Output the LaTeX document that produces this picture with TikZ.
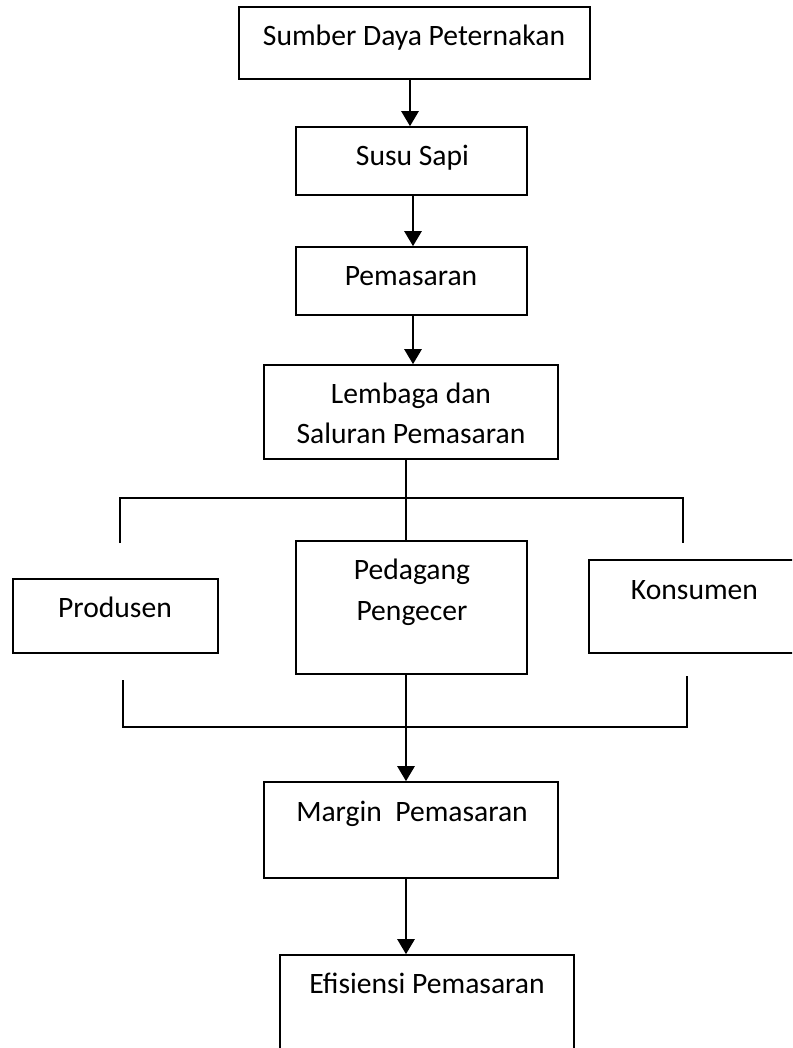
\documentclass[tikz,border=0pt]{standalone}
\usepackage{fontspec}
\setmainfont{Carlito}
\usetikzlibrary{arrows.meta}
\begin{document}
\begin{tikzpicture}[x=1pt,y=-1pt,
  box/.style={draw,line width=1.6pt,inner sep=0pt},
  lbl/.style={anchor=base,inner sep=0pt,font=\fontsize{29.6}{36}\selectfont},
  arr/.style={line width=2.6pt,-{Triangle[width=17pt,length=15pt]}},
  ln/.style={line width=2pt}]
\useasboundingbox (0,0) rectangle (792,1048);
\clip (0,0) rectangle (792,1048);
% boxes
\node[box,minimum width=351pt,minimum height=72pt] (b1) at (414.5,43) {};
\node[box,minimum width=231pt,minimum height=68pt] (b2) at (411.5,161) {};
\node[box,minimum width=231pt,minimum height=68pt] (b3) at (411.5,281) {};
\node[box,minimum width=294pt,minimum height=94pt] (b4) at (411,412) {};
\node[box,minimum width=205pt,minimum height=74pt] (prod) at (115.5,616) {};
\node[box,minimum width=231pt,minimum height=133pt] (ped) at (411.5,607.5) {};
\node[box,minimum width=240pt,minimum height=93pt] (kon) at (709,606.5) {};
\node[box,minimum width=294pt,minimum height=96pt] (mar) at (411,830) {};
\node[box,minimum width=294pt,minimum height=140pt] (efi) at (427,1025) {};
% labels
\node[lbl] (t1) at (414,46) {Sumber Daya Peternakan};
\node[lbl] (t2) at (412.5,166) {Susu Sapi};
\node[lbl] (t3) at (411,285) {Pemasaran};
\node[lbl] (t4a) at (411,403) {Lembaga dan};
\node[lbl] (t4b) at (411,443) {Saluran Pemasaran};
\node[lbl] (tp) at (115,617) {Produsen};
\node[lbl] (tq1) at (412,579) {Pedagang};
\node[lbl] (tq2) at (412,620) {Pengecer};
\node[lbl] (tk) at (694.5,599) {Konsumen};
\node[lbl] (tm) at (412,821) {Margin\ \ Pemasaran};
\node[lbl] (te) at (427,993) {Efisiensi Pemasaran};
% connectors
\draw[arr] (b1.south -| 410,0) -- (b2.north -| 410,0);
\draw[arr] (b2.south -| 413,0) -- (b3.north -| 413,0);
\draw[arr] (b3.south -| 413,0) -- (b4.north -| 413,0);
\draw[ln] (b4.south -| 406,0) -- (ped.north -| 406,0);
\coordinate (tl) at (120,498);
\coordinate (tr) at (683,498);
\coordinate (tle) at (120,543);
\coordinate (tre) at (683,543);
\draw[ln] (tle) -- (tl) -- (tr) -- (tre);
\coordinate (bl) at (123,727);
\coordinate (br) at (687,727);
\coordinate (ble) at (123,680);
\coordinate (bre) at (687,676);
\draw[ln] (ble) -- (bl) -- (br) -- (bre);
\draw[arr] (ped.south -| 406,0) -- (mar.north -| 406,0);
\draw[arr] (mar.south -| 406,0) -- (efi.north -| 406,0);
\end{tikzpicture}
\end{document}
